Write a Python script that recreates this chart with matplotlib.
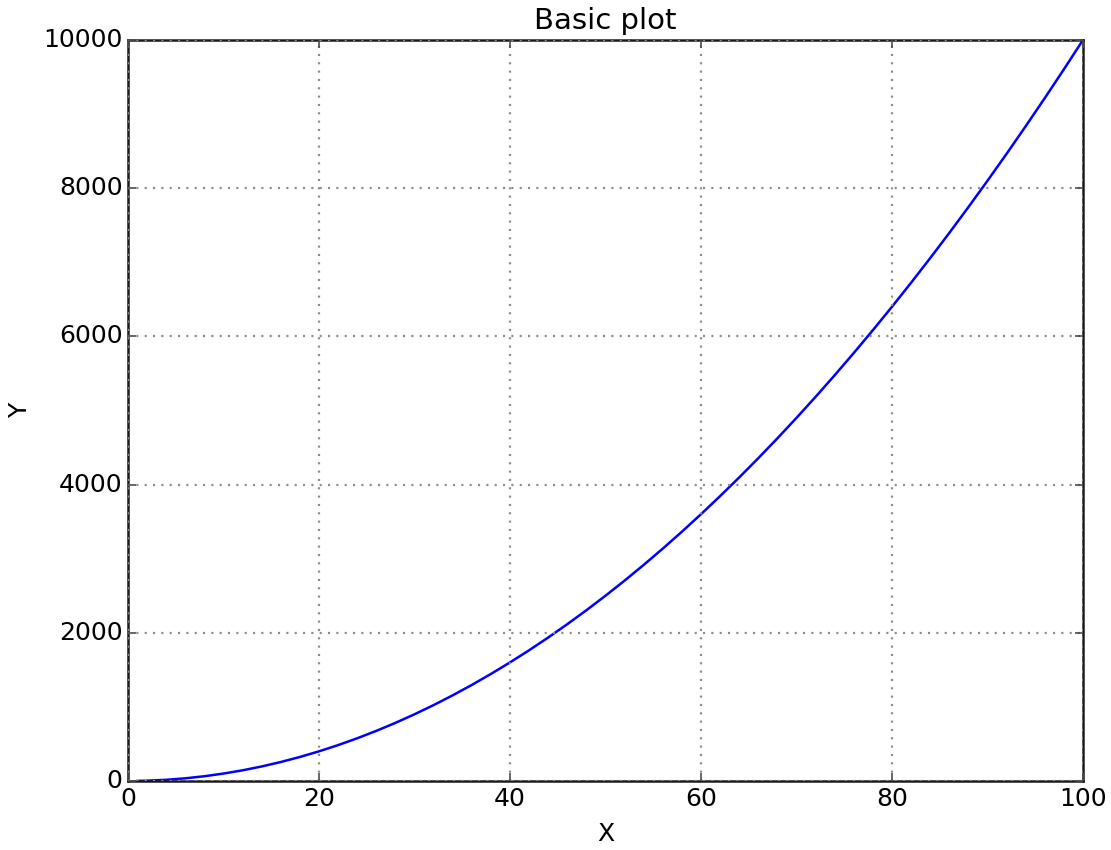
import matplotlib
matplotlib.use("Agg")
import matplotlib.pyplot as plt

# Sampled points along the curve
x_vals = [1, 2, 4, 6, 8, 10, 12, 14, 16, 18, 20, 22, 24, 26, 28, 30,
          32, 34, 36, 38, 40, 42, 44, 46, 48, 50, 52, 54, 56, 58, 60,
          62, 64, 66, 68, 70, 72, 74, 76, 78, 80, 82, 84, 86, 88, 90,
          92, 94, 96, 98, 100]
y_vals = [1, 4, 16, 36, 64, 100, 144, 196, 256, 324, 400, 484, 576, 676,
          784, 900, 1024, 1156, 1296, 1444, 1600, 1764, 1936, 2116, 2304,
          2500, 2704, 2916, 3136, 3364, 3600, 3844, 4096, 4356, 4624, 4900,
          5184, 5476, 5776, 6084, 6400, 6724, 7056, 7396, 7744, 8100, 8464,
          8836, 9216, 9604, 10000]

plt.style.use("classic")
plt.rcParams["font.family"] = "DejaVu Sans"

fig = plt.figure(figsize=(11.11, 8.5), dpi=100, facecolor="white")
ax = fig.add_axes([0.1152, 0.0812, 0.8596, 0.8718])

ax.plot(x_vals, y_vals, color="b", lw=1.8)

ax.set_xlim(0, 100)
ax.set_ylim(0, 10000)
ax.set_title("Basic plot", fontsize=21, pad=8)
ax.set_xlabel("X", fontsize=18, labelpad=8)
ax.set_ylabel("Y", fontsize=18, labelpad=8)
ax.tick_params(labelsize=18, width=1.2, length=6, color="0.3")
for sp in ax.spines.values():
    sp.set_linewidth(1.8)
    sp.set_color("0.1")
ax.grid(True, color="0.55", linestyle=(0, (1.5, 4.5)), lw=1.6)

fig.savefig("out.png", dpi=100, facecolor="white")
